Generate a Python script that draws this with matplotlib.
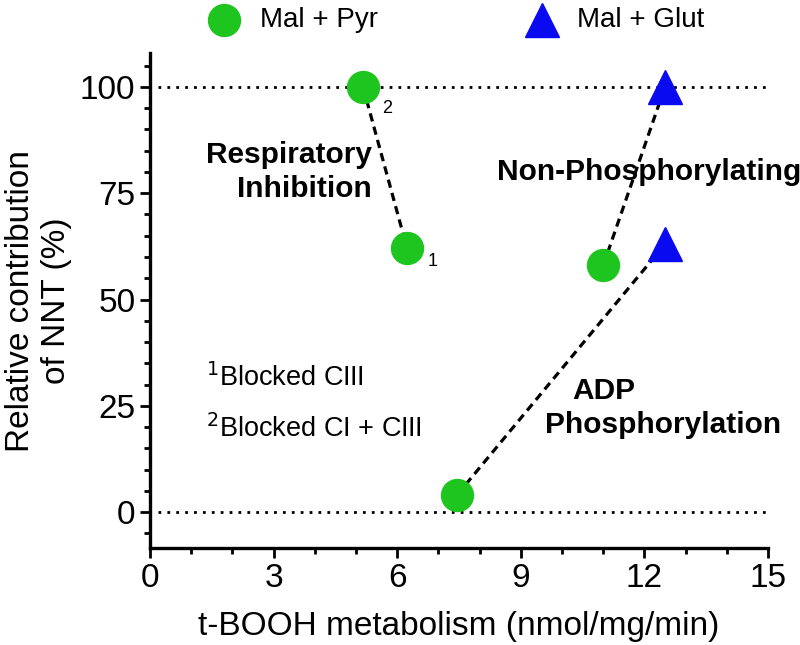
import matplotlib.pyplot as plt
from matplotlib.ticker import MultipleLocator

plt.rcParams['font.family'] = ['Liberation Sans', 'DejaVu Sans']

# Mal + Pyr (green circles)
pyr_x = [5.17, 6.24, 11.0, 7.45]
pyr_y = [100, 62, 58, 4]
# Mal + Glut (blue triangles)
glut_x = [12.5, 12.5]
glut_y = [100, 63]

# dashed connections
links_x = [[5.17, 6.24], [11.0, 12.5], [7.45, 12.5]]
links_y = [[100, 62], [58, 100], [4, 63]]

xticks = [0, 3, 6, 9, 12, 15]
yticks = [0, 25, 50, 75, 100]

fig = plt.figure(figsize=(8, 6.45), dpi=100)
ax = fig.add_axes([0.1875, 0.150, 0.7725, 0.768])

for ref in [0, 100]:
    ax.plot([0.2, 15], [ref, ref], color='black', linestyle=(0, (1, 2.2)), lw=2, zorder=1)

for lx, ly in zip(links_x, links_y):
    ax.plot(lx, ly, color='black', linestyle=(0, (2.6, 1.7)), lw=2.3, zorder=2)

ax.plot(pyr_x, pyr_y, 'o', color='#1ec51e', markersize=23, linestyle='none', zorder=3)
ax.plot(glut_x, glut_y, '^', color='#0a0af0', markersize=24, linestyle='none', zorder=3)

ax.set_xlim(0, 15)
ax.set_ylim(-8.5, 108)
ax.set_xticks(xticks)
ax.set_yticks(yticks)
ax.xaxis.set_minor_locator(MultipleLocator(1))
ax.yaxis.set_minor_locator(MultipleLocator(5))
ax.tick_params(which='major', length=7, width=2, labelsize=24)
ax.tick_params(which='minor', length=4, width=2)
for s in ['top', 'right']:
    ax.spines[s].set_visible(False)
for s in ['left', 'bottom']:
    ax.spines[s].set_linewidth(2.4)

ax.set_xlabel('t-BOOH metabolism (nmol/mg/min)', fontsize=24, labelpad=12)
ax.set_ylabel('Relative contribution\nof NNT (%)', fontsize=24, labelpad=6)

ax.text(5.75, 95, '2', fontsize=13, ha='center', va='center')
ax.text(6.85, 59, '1', fontsize=13, ha='center', va='center')

ax.text(5.39, 80, 'Respiratory\nInhibition', fontsize=21.5, fontweight='bold',
        ha='right', va='center', multialignment='right', linespacing=1.25)
ax.text(8.42, 80, 'Non-Phosphorylating', fontsize=21.5, fontweight='bold',
        ha='left', va='center')
ax.text(11.02, 28.5, 'ADP', fontsize=21.5, fontweight='bold', ha='center', va='center')
ax.text(12.45, 20.5, 'Phosphorylation', fontsize=21.5, fontweight='bold', ha='center', va='center')

ax.text(1.35, 31.5, r'$^{1}$Blocked CIII', fontsize=19.5, ha='left', va='center')
ax.text(1.35, 19.7, r'$^{2}$Blocked CI + CIII', fontsize=19.5, ha='left', va='center')

# legend row above the axes
ly = 1 - 20 / 645
fig.lines.append(plt.Line2D([224 / 800], [ly], marker='o', color='#1ec51e',
                            markersize=23, linestyle='none', transform=fig.transFigure))
fig.text(260 / 800, ly, 'Mal + Pyr', fontsize=20, ha='left', va='center')
fig.lines.append(plt.Line2D([542 / 800], [ly], marker='^', color='#0a0af0',
                            markersize=24, linestyle='none', transform=fig.transFigure))
fig.text(577 / 800, ly, 'Mal + Glut', fontsize=20, ha='left', va='center')

plt.savefig('out.png', dpi=100)
